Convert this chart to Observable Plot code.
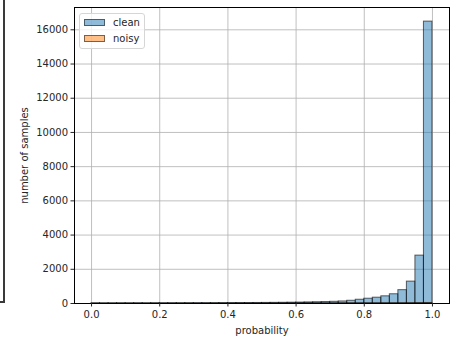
<!DOCTYPE html>
<html>
<head>
<meta charset="utf-8">
<script src="https://cdn.jsdelivr.net/npm/d3@7"></script>
<script src="https://cdn.jsdelivr.net/npm/@observablehq/plot@0.6"></script>
<style>
  html, body { margin: 0; padding: 0; background: white; }
  #wrap { position: relative; width: 456px; height: 340px; overflow: hidden; font-family: "DejaVu Sans", sans-serif; }
  #chart { position: absolute; left: 0; top: 0; }
  #edge { position: absolute; left: 0; top: -2px; width: 3px; height: 303px; border-right: 2px solid #3a3a3a; border-bottom: 2px solid #3a3a3a; z-index: 5; }
  #legend { position: absolute; left: 79px; top: 13px; width: 64px; height: 34px; border: 1px solid #d6d6d6; border-radius: 3px; background: rgba(255,255,255,0.8); font-size: 10px; color: #262626; z-index: 2; }
  .item { position: absolute; left: 4px; height: 10px; display: flex; align-items: center; }
  .sw { width: 21px; height: 7px; box-sizing: border-box; border: 1px solid rgba(0,0,0,0.5); margin-right: 8px; }
</style>
</head>
<body>
<div id="wrap">
  <div id="chart"></div>
  <div id="legend"></div>
  <div id="edge"></div>
</div>
<script>
const seriesNames = ["clean", "noisy"];
const seriesColors = ["#1f77b4", "#ff7f0e"];
const binWidth = 0.025;
const cleanCounts = [8, 6, 7, 9, 8, 10, 9, 11,
  12, 13, 14, 15, 17, 18, 20, 22,
  24, 26, 28, 31, 34, 38, 42, 48,
  55, 65, 75, 85, 100, 120, 160, 220,
  280, 340, 420, 540, 780, 1280, 2800, 16480];
const noisyCounts = [1, 1, 2, 1, 2, 2, 1, 2,
  2, 3, 2, 3, 2, 3, 3, 3,
  3, 4, 3, 4, 4, 5, 4, 5,
  5, 6, 6, 7, 7, 8, 9, 10,
  11, 12, 14, 15, 18, 20, 25, 30];
const xTicks = [0, 0.2, 0.4, 0.6, 0.8, 1.0];
const yTicks = [0, 2000, 4000, 6000, 8000, 10000, 12000, 14000, 16000];

const toRows = counts => counts.map((c, i) => ({x1: i * binWidth, x2: (i + 1) * binWidth, count: c}));
const cleanRows = toRows(cleanCounts);
const noisyRows = toRows(noisyCounts);
const yMax = d3.max(cleanCounts) * 1.05;

const chart = Plot.plot({
  width: 456,
  height: 340,
  marginLeft: 74,
  marginRight: 7,
  marginTop: 7,
  marginBottom: 37,
  style: {fontFamily: "DejaVu Sans, sans-serif", fontSize: "10px", color: "#262626", background: "white", overflow: "visible"},
  x: {domain: [-0.05, 1.05]},
  y: {domain: [0, yMax]},
  marks: [
    Plot.gridX(xTicks, {stroke: "#b0b0b0", strokeOpacity: 1, strokeWidth: 0.8}),
    Plot.gridY(yTicks, {stroke: "#b0b0b0", strokeOpacity: 1, strokeWidth: 0.8}),
    Plot.rectY(cleanRows, {x1: "x1", x2: "x2", y: "count", fill: seriesColors[0], fillOpacity: 0.5, stroke: "#000", strokeOpacity: 0.6, strokeWidth: 1}),
    Plot.rectY(noisyRows, {x1: "x1", x2: "x2", y: "count", fill: seriesColors[1], fillOpacity: 0.5, stroke: "#000", strokeOpacity: 0.6, strokeWidth: 1}),
    Plot.frame({stroke: "#000", strokeWidth: 1}),
    Plot.axisX(xTicks, {tickSize: 3.5, tickPadding: 3.5, tickFormat: d => d.toFixed(1), label: "probability", labelAnchor: "center", labelArrow: "none", labelOffset: 30, fontSize: 10}),
    Plot.axisY(yTicks, {tickSize: 3.5, tickPadding: 3, tickFormat: d => String(d), label: "number of samples", labelAnchor: "center", labelArrow: "none", labelOffset: 54, fontSize: 10})
  ]
});
document.getElementById("chart").appendChild(chart);

const legend = document.getElementById("legend");
seriesNames.forEach((name, i) => {
  const item = document.createElement("div");
  item.className = "item";
  item.style.top = (3 + i * 16) + "px";
  const sw = document.createElement("div");
  sw.className = "sw";
  sw.style.background = seriesColors[i] + "80";
  item.appendChild(sw);
  const t = document.createElement("span");
  t.textContent = name;
  item.appendChild(t);
  legend.appendChild(item);
});
</script>
</body>
</html>
